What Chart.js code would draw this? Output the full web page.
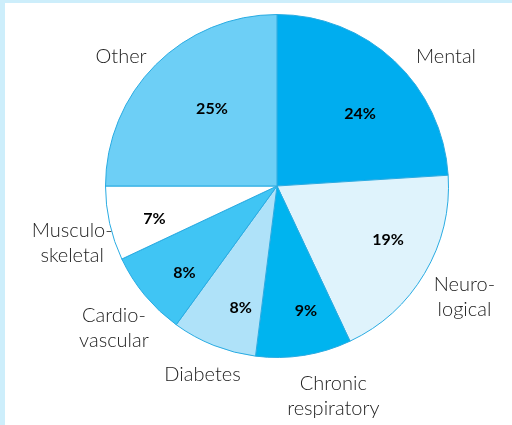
<!DOCTYPE html>
<html>
<head>
<meta charset="utf-8">
<script src="https://cdn.jsdelivr.net/npm/chart.js@4"></script>
<style>
  html, body { margin: 0; padding: 0; background: #cdeefb; }
  body { width: 512px; height: 425px; overflow: hidden; position: relative; }
  #panel { position: absolute; left: 5px; top: 3px; width: 507px; height: 422px; background: #fff; }
  #chart { display: block; }
</style>
</head>
<body>
<div id="panel"><canvas id="chart" width="507" height="422"></canvas></div>
<script>
// categories, clockwise from 12 o'clock
const categories = [
    ['Mental'],
    ['Neuro-', 'logical'],
    ['Chronic', 'respiratory'],
    ['Diabetes'],
    ['Cardio-', 'vascular'],
    ['Musculo-', 'skeletal'],
    ['Other']
];
const shares = [24, 19, 9, 8, 8, 7, 25];
const sliceColors = ['#00adef', '#dff3fc', '#00b4ef', '#afe2f9', '#40c5f4', '#ffffff', '#6dcff6'];

// label placement: [angle nudge in degrees, distance as fraction of radius]
const nameLayout = [[9.4, 1.24], [0, 1.27], [-6, 1.27], [0, 1.18], [-1.4, 1.26], [-3, 1.24], [-5.4, 1.18]];
const pctLayout = [[6, 0.64], [-4.6, 0.72], [-4, 0.75], [-5, 0.74], [-3.5, 0.74], [-2.5, 0.74], [5, 0.59]];

const labelPlugin = {
    id: 'sliceLabels',
    afterDraw(chart) {
        const ctx = chart.ctx;
        const meta = chart.getDatasetMeta(0);
        ctx.save();
        ctx.textAlign = 'center';
        ctx.textBaseline = 'middle';
        meta.data.forEach((arc, i) => {
            const p = arc.getProps(['x', 'y', 'startAngle', 'endAngle', 'outerRadius'], true);
            const mid = (p.startAngle + p.endAngle) / 2;

            // percentage inside slice
            let a = mid + pctLayout[i][0] * Math.PI / 180;
            let r = p.outerRadius * pctLayout[i][1];
            ctx.fillStyle = '#000';
            ctx.font = 'bold 16px Lato, "DejaVu Sans", sans-serif';
            ctx.fillText(shares[i] + '%', p.x + Math.cos(a) * r, p.y + Math.sin(a) * r);

            // category name outside
            a = mid + nameLayout[i][0] * Math.PI / 180;
            r = p.outerRadius * nameLayout[i][1];
            const cx = p.x + Math.cos(a) * r, cy = p.y + Math.sin(a) * r;
            const lines = categories[i];
            const lh = 25;
            ctx.fillStyle = '#222';
            ctx.font = '300 20px Lato, "Open Sans", sans-serif';
            lines.forEach((ln, k) => {
                ctx.fillText(ln, cx, cy + (k - (lines.length - 1) / 2) * lh);
            });
        });
        ctx.restore();
    }
};

new Chart(document.getElementById('chart'), {
    type: 'pie',
    data: {
        labels: categories,
        datasets: [{
            data: shares,
            backgroundColor: sliceColors,
            borderColor: '#29abe2',
            borderWidth: 1
        }]
    },
    options: {
        responsive: false,
        animation: false,
        layout: { padding: { left: 100, right: 63, top: 11, bottom: 67 } },
        plugins: { legend: { display: false }, tooltip: { enabled: false } }
    },
    plugins: [labelPlugin]
});
</script>
</body>
</html>
